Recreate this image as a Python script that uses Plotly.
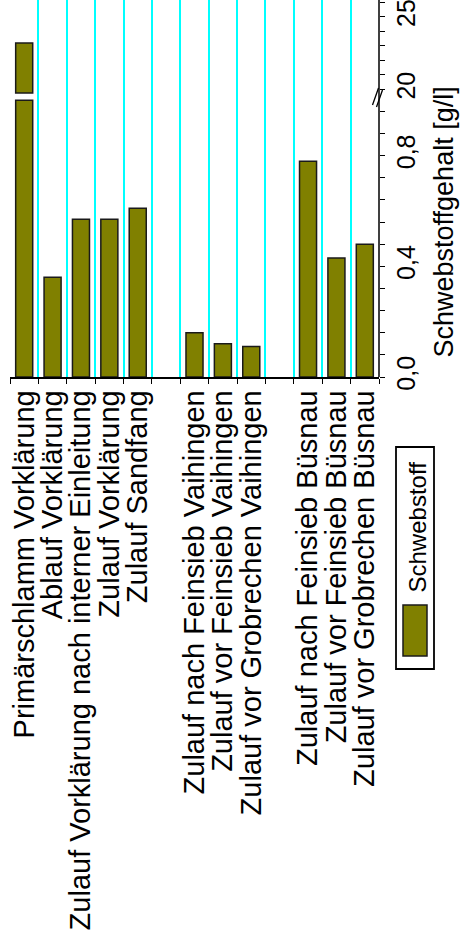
import plotly.graph_objects as go

# Sampling points (blank entries separate the groups)
categories = [
    "Primärschlamm Vorklärung",
    "Ablauf Vorklärung",
    "Zulauf Vorklärung nach interner Einleitung",
    "Zulauf Vorklärung",
    "Zulauf Sandfang",
    " ",
    "Zulauf nach Feinsieb Vaihingen",
    "Zulauf vor Feinsieb Vaihingen",
    "Zulauf vor Grobrechen Vaihingen",
    "  ",
    "Zulauf nach Feinsieb Büsnau",
    "Zulauf vor Feinsieb Büsnau",
    "Zulauf vor Grobrechen Büsnau",
]
# Suspended solids content in g/l
schwebstoff = [23.2, 0.36, 0.57, 0.57, 0.61, None, 0.16, 0.12, 0.11, None, 0.78, 0.43, 0.48]

series_name = "Schwebstoff"
axis_title = "Schwebstoffgehalt [g/l]"

# Broken value axis: lower part 0..~1, upper part ~19..26
LOWER_RANGE = [0, 1.0155]
UPPER_RANGE = [19.55, 26.15]
LOWER_CAP = 1.0      # lower bar segment stops here
UPPER_BASE = 19.75   # upper bar segment starts here
SPLIT = 0.7454       # paper position of the break

OLIVE = "#808000"
FONT = "Liberation Sans, Arial, sans-serif"

lower_vals = [None if v is None else min(v, LOWER_CAP) for v in schwebstoff]
upper_vals = [v if (v is not None and v > UPPER_BASE) else None for v in schwebstoff]

bar_line = dict(color="#1a1a1a", width=1.5)

fig = go.Figure()
fig.add_trace(go.Bar(
    x=categories, y=lower_vals, name=series_name,
    marker=dict(color=OLIVE, line=bar_line), width=0.6,
    xaxis="x", yaxis="y", showlegend=False,
))
fig.add_trace(go.Bar(
    x=categories,
    y=[None if v is None else v - UPPER_BASE for v in upper_vals],
    base=[None if v is None else UPPER_BASE for v in upper_vals],
    name=series_name,
    marker=dict(color=OLIVE, line=bar_line), width=0.6,
    xaxis="x", yaxis="y2", showlegend=False,
))

tick_style = dict(ticks="outside", ticklen=5, tickcolor="black", tickwidth=1.3)

fig.update_layout(
    width=461, height=937,
    margin=dict(l=10, r=82, t=0, b=560, autoexpand=False),
    paper_bgcolor="white", plot_bgcolor="white",
    separators=",.",
    font=dict(family=FONT, color="black"),
    barmode="overlay",
    xaxis=dict(
        type="category",
        categoryorder="array", categoryarray=categories,
        tickmode="array", tickvals=categories, ticktext=categories,
        range=[-0.5, len(categories) - 0.5],
        tickson="boundaries",
        showgrid=True, gridcolor="#00FFFF", gridwidth=1.5,
        showline=True, linecolor="black", linewidth=1.5,
        tickangle=-90, tickfont=dict(size=29, family=FONT, color="black"),
        anchor="y", automargin=False, zeroline=False,
        **tick_style,
    ),
    yaxis=dict(
        domain=[0, SPLIT], range=LOWER_RANGE,
        side="right", anchor="x",
        tick0=0, dtick=0.4, tickformat=".1f",
        minor=dict(dtick=0.08, tick0=0, showgrid=False, **tick_style),
        tickangle=-90, tickfont=dict(size=25, family=FONT, color="black"),
        ticklabeloverflow="allow",
        showgrid=False, zeroline=False, showline=False,
        automargin=False,
        **tick_style,
    ),
    yaxis2=dict(
        domain=[SPLIT, 1], range=UPPER_RANGE,
        side="right", anchor="x",
        tick0=0, dtick=5, tickformat="d",
        minor=dict(dtick=1, tick0=0, showgrid=False, **tick_style),
        tickangle=-90, tickfont=dict(size=25, family=FONT, color="black"),
        ticklabeloverflow="allow",
        showgrid=False, zeroline=False, showline=False,
        automargin=False,
        **tick_style,
    ),
)

shapes = []
# continuous right-hand value axis line
shapes.append(dict(type="line", xref="paper", yref="paper", x0=1, x1=1, y0=0, y1=1,
                   line=dict(color="black", width=1.5)))
# break marker "//" on the value axis
px_w, px_h = 369.0, 377.0
def pxx(p):
    return (p - 10) / px_w
def pxy(p):
    return (377 - p) / px_h
for dx in (0, 4):
    shapes.append(dict(type="line", xref="paper", yref="paper",
                       x0=pxx(372.5 + dx), y0=pxy(105 + dx * 0.5),
                       x1=pxx(378.5 + dx), y1=pxy(88 + dx * 0.5),
                       line=dict(color="black", width=1.3)))
# legend frame and swatch
shapes.append(dict(type="rect", xref="paper", yref="paper",
                   x0=pxx(396), x1=pxx(434), y0=pxy(669), y1=pxy(447),
                   line=dict(color="black", width=1.8), fillcolor="white"))
shapes.append(dict(type="rect", xref="paper", yref="paper",
                   x0=pxx(403), x1=pxx(427), y0=pxy(656), y1=pxy(605),
                   line=dict(color="#1a1a1a", width=1.5), fillcolor=OLIVE))
fig.update_layout(shapes=shapes)

fig.add_annotation(
    text=series_name, xref="paper", yref="paper",
    x=pxx(416.5), y=pxy(527), showarrow=False, textangle=-90,
    font=dict(size=24, family=FONT, color="black"),
    xanchor="center", yanchor="middle",
)
fig.add_annotation(
    text=axis_title, xref="paper", yref="paper",
    x=pxx(443.5), y=pxy(222), showarrow=False, textangle=-90,
    font=dict(size=27, family=FONT, color="black"),
    xanchor="center", yanchor="middle",
)

fig.write_html("out.html")
